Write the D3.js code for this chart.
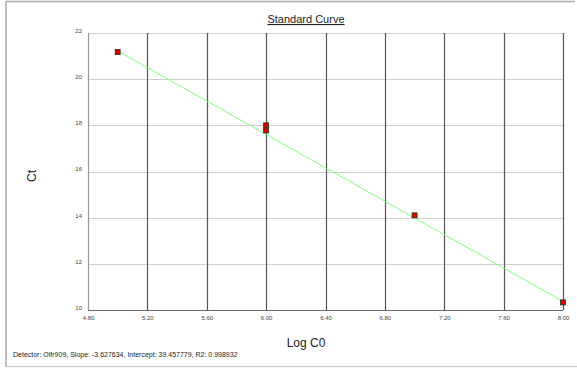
<!DOCTYPE html>
<html>
<head>
<meta charset="utf-8">
<script src="https://cdn.jsdelivr.net/npm/d3@7"></script>
<style>
  body { margin: 0; background: #fff; }
  text { font-family: "Liberation Sans", Arial, sans-serif; }
</style>
</head>
<body>
<div id="wrapper"></div>
<script>
// standard curve points (Log C0, Ct)
const logC0 = [5.0, 6.0, 6.0, 7.0, 8.0];
const ct = [21.18, 18.0, 17.78, 14.1, 10.33];
const xTicks = [4.8, 5.2, 5.6, 6.0, 6.4, 6.8, 7.2, 7.6, 8.0];
const yTicks = [10, 12, 14, 16, 18, 20, 22];
const slope = -3.627634;
const intercept = 39.457779;
const r2 = 0.998932;
const detector = "Olfr909";

const width = 577, height = 368;
const margin = { top: 33, left: 88, bottom: 58, right: 14 };
const boundedWidth = width - margin.left - margin.right;
const boundedHeight = height - margin.top - margin.bottom;

const svg = d3.select("#wrapper")
    .append("svg")
    .attr("width", width)
    .attr("height", height);

// outer frame
svg.append("line").attr("x1", 6).attr("x2", 575).attr("y1", 1.5).attr("y2", 1.5)
    .attr("stroke", "#aaa").attr("stroke-width", 1.5);
svg.append("line").attr("x1", 6).attr("x2", 6).attr("y1", 1).attr("y2", 367)
    .attr("stroke", "#aaa").attr("stroke-width", 1.5);
svg.append("line").attr("x1", 6).attr("x2", 577).attr("y1", 366.5).attr("y2", 366.5)
    .attr("stroke", "#ccc").attr("stroke-width", 1.5);

const bounded = svg.append("g")
    .attr("transform", `translate(${margin.left},${margin.top})`);

const xScaler = d3.scaleLinear().domain([4.8, 8.0]).range([0, boundedWidth]);
const yScaler = d3.scaleLinear().domain([10, 22]).range([boundedHeight, 0]);

// horizontal grid (light)
bounded.append("g")
    .selectAll("line")
    .data(yTicks)
    .enter()
    .append("line")
    .attr("x1", 0)
    .attr("x2", boundedWidth)
    .attr("y1", d => Math.round(yScaler(d)) + 0.5)
    .attr("y2", d => Math.round(yScaler(d)) + 0.5)
    .attr("stroke", d => d == 10 ? "#666" : "#cfcfcf")
    .attr("stroke-width", 1.2);

// vertical grid (dark)
bounded.append("g")
    .selectAll("line")
    .data(xTicks)
    .enter()
    .append("line")
    .attr("x1", d => Math.round(xScaler(d)) + 0.5)
    .attr("x2", d => Math.round(xScaler(d)) + 0.5)
    .attr("y1", 0)
    .attr("y2", boundedHeight)
    .attr("stroke", d => d == 4.8 ? "#999" : "#555")
    .attr("stroke-width", 1.2);

// axes labels via d3 axes
const xAxis = bounded.append("g")
    .attr("transform", `translate(0,${boundedHeight})`)
    .call(d3.axisBottom(xScaler).tickValues(xTicks).tickFormat(d3.format(".2f")).tickSize(0).tickPadding(6));
const yAxis = bounded.append("g")
    .call(d3.axisLeft(yScaler).tickValues(yTicks).tickFormat(d3.format("d")).tickSize(0).tickPadding(6));
[xAxis, yAxis].forEach(a => {
    a.select(".domain").remove();
    a.selectAll("text").attr("font-size", "6px").attr("fill", "#444")
        .attr("font-family", "Liberation Sans, Arial, sans-serif");
});
yAxis.selectAll("text").attr("dy", "-0.1em");

// regression line
const fit = x => slope * x + intercept;
bounded.append("line")
    .attr("x1", xScaler(d3.min(logC0)))
    .attr("x2", xScaler(d3.max(logC0)))
    .attr("y1", yScaler(ct[0]) - 1)
    .attr("y2", yScaler(ct[4]) - 1)
    .attr("stroke", "#7dfc7d")
    .attr("stroke-width", 1);

// points
bounded.append("g")
    .selectAll("rect")
    .data(logC0.map((x, i) => [x, ct[i]]))
    .enter()
    .append("rect")
    .attr("x", d => xScaler(d[0]) - 2.5)
    .attr("y", d => yScaler(d[1]) - 2.5)
    .attr("width", 5)
    .attr("height", 5)
    .attr("fill", "#e00000")
    .attr("stroke", "#1a3a1a")
    .attr("stroke-width", 0.8);

// title
svg.append("text")
    .attr("x", 306)
    .attr("y", 23)
    .attr("text-anchor", "middle")
    .attr("font-size", "11px")
    .attr("fill", "#222")
    .attr("text-decoration", "underline")
    .text("Standard Curve");

svg.append("text")
    .attr("x", 306)
    .attr("y", 347)
    .attr("text-anchor", "middle")
    .attr("font-size", "12px")
    .attr("fill", "#222")
    .text("Log C0");

svg.append("text")
    .attr("transform", "translate(36,176) rotate(-90)")
    .attr("text-anchor", "middle")
    .attr("font-size", "12px")
    .attr("fill", "#222")
    .text("Ct");

svg.append("text")
    .attr("x", 13)
    .attr("y", 357)
    .attr("font-size", "7px")
    .attr("fill", "#222")
    .text(`Detector: ${detector}, Slope:  ${slope.toFixed(6)}, Intercept:  ${intercept.toFixed(6)}, R2:  ${r2.toFixed(6)}`);
</script>
</body>
</html>
